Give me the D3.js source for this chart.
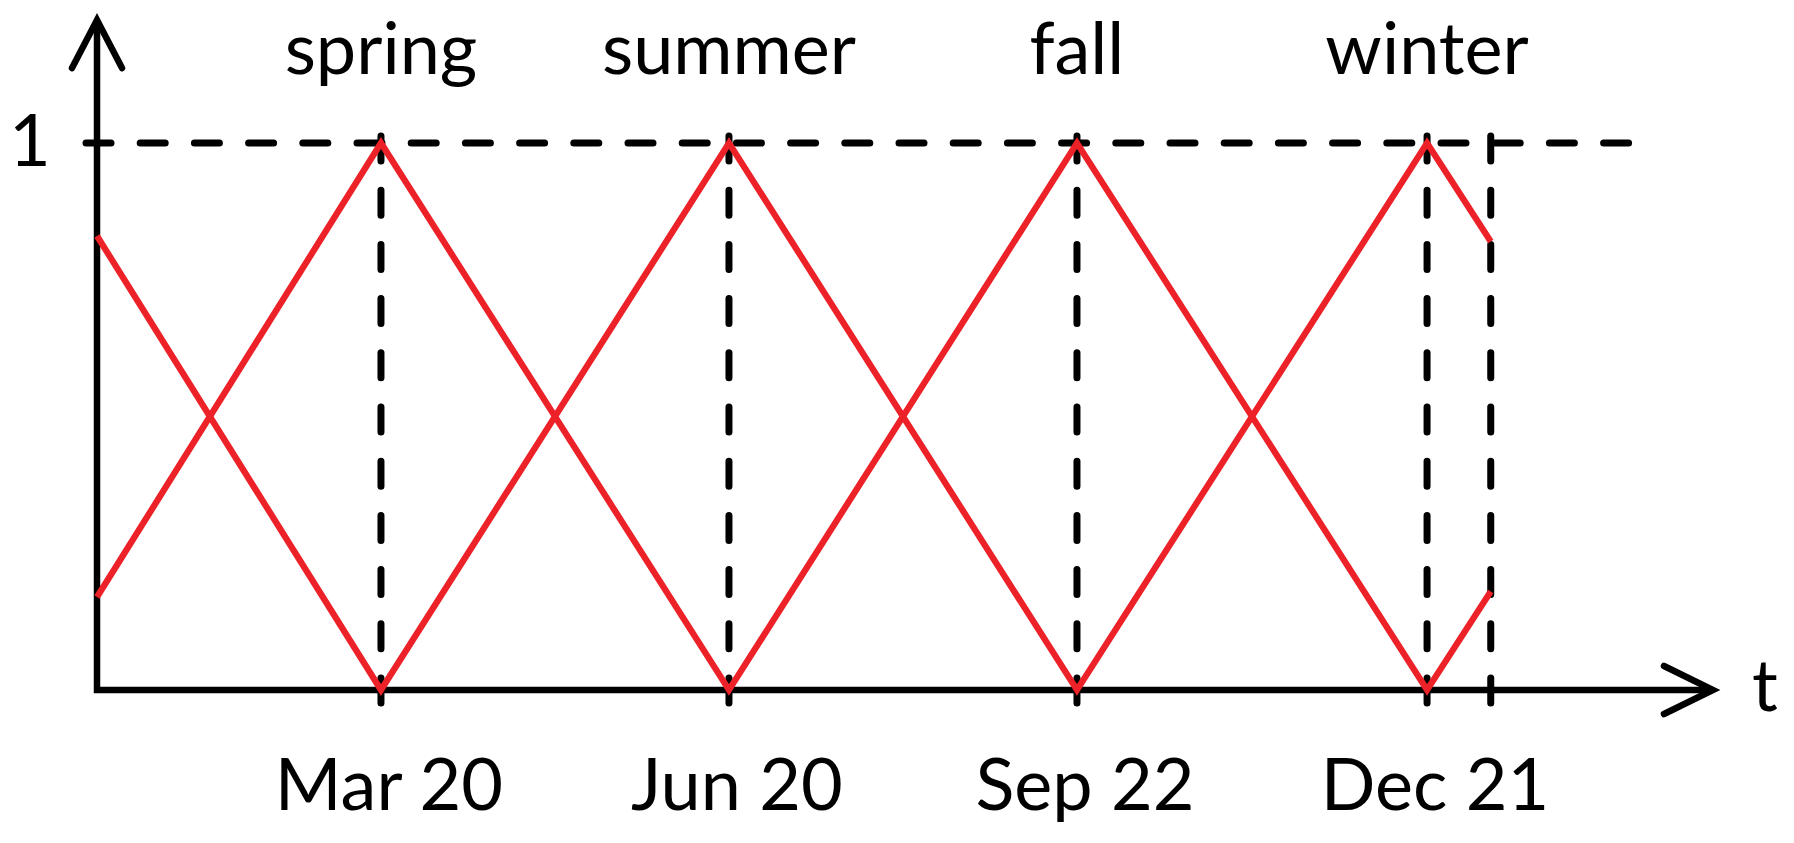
<!DOCTYPE html>
<html>
<head>
<meta charset="utf-8">
<script src="https://cdn.jsdelivr.net/npm/d3@7"></script>
<style>
  html, body { margin: 0; padding: 0; background: #fff; }
  svg { display: block; }
  text { font-family: Lato, "Open Sans", sans-serif; fill: #000; }
</style>
</head>
<body>
<svg></svg>
<script>
var width = 1794;
var height = 843;

// schematic time positions (1 unit ~ one season)
var tickLabels = ["Mar 20", "Jun 20", "Sep 22", "Dec 21"];
var seasons = ["spring", "summer", "fall", "winter"];
var tickPos = [0.816, 1.816, 2.816, 3.822];
var tEnd = 4.005;

// the two triangle waves, at t = 0, each tick, and tEnd
var seriesA = [0.83, 0, 1, 0, 1, 0.82];
var seriesB = [0.17, 1, 0, 1, 0, 0.18];

var tAll = [0].concat(tickPos, [tEnd]);

var x = d3.scaleLinear().domain([0, 4]).range([97, 1489]);
var y = d3.scaleLinear().domain([0, 1]).range([690, 143]);

var svg = d3.select('svg')
  .attr('width', width)
  .attr('height', height);

var dash = "25,29.2";

// horizontal dashed line at 1
svg.append('line')
  .attr('x1', x(0) - 11).attr('x2', x(4) + 151)
  .attr('y1', y(1)).attr('y2', y(1))
  .attr('stroke', '#000').attr('stroke-width', 7)
  .attr('stroke-dasharray', dash).attr('stroke-linecap', 'round');

// vertical dashed lines
svg.selectAll('.vline')
  .data(tickPos.concat([tEnd]))
  .enter().append('line')
  .attr('class', 'vline')
  .attr('x1', function(d){ return x(d); })
  .attr('x2', function(d){ return x(d); })
  .attr('y1', y(1) - 7)
  .attr('y2', y(0) + 15)
  .attr('stroke', '#000').attr('stroke-width', 7)
  .attr('stroke-dasharray', dash).attr('stroke-linecap', 'round');

// axes
var x0 = x(0), yb = y(0);
svg.append('path')
  .attr('d', 'M' + x0 + ',20 L' + x0 + ',' + yb + ' L1713,' + yb)
  .attr('fill', 'none').attr('stroke', '#000').attr('stroke-width', 6.5)
  .attr('stroke-linejoin', 'miter');
svg.append('path')
  .attr('d', 'M' + (x0 - 25) + ',68 L' + x0 + ',20 L' + (x0 + 25) + ',68')
  .attr('fill', 'none').attr('stroke', '#000').attr('stroke-width', 6.5)
  .attr('stroke-linecap', 'round').attr('stroke-linejoin', 'miter');
svg.append('path')
  .attr('d', 'M1664,' + (yb - 24) + ' L1713,' + yb + ' L1664,' + (yb + 24))
  .attr('fill', 'none').attr('stroke', '#000').attr('stroke-width', 6.5)
  .attr('stroke-linecap', 'round').attr('stroke-linejoin', 'miter');

// red lines
var line = d3.line()
  .x(function(d, i){ return x(tAll[i]); })
  .y(function(d){ return y(d); });

svg.selectAll('.wave')
  .data([seriesA, seriesB])
  .enter().append('path')
  .attr('class', 'wave')
  .attr('d', line)
  .attr('fill', 'none')
  .attr('stroke', '#ed2229')
  .attr('stroke-width', 6.3)
  .attr('stroke-linejoin', 'miter');

// labels
var fs = 72;
svg.selectAll('.season')
  .data(seasons)
  .enter().append('text')
  .attr('class', 'season')
  .attr('x', function(d, i){ return x(tickPos[i]); })
  .attr('y', 74)
  .attr('text-anchor', 'middle')
  .attr('font-size', fs)
  .text(function(d){ return d; });

svg.selectAll('.tick')
  .data(tickLabels)
  .enter().append('text')
  .attr('class', 'tick')
  .attr('x', function(d, i){ return x(tickPos[i]) + 8; })
  .attr('y', 810)
  .attr('text-anchor', 'middle')
  .attr('font-size', fs)
  .text(function(d){ return d; });

svg.append('text')
  .attr('x', 30).attr('y', y(1) + 23)
  .attr('text-anchor', 'middle')
  .attr('font-size', fs)
  .text('1');

svg.append('text')
  .attr('x', 1765).attr('y', 711)
  .attr('text-anchor', 'middle')
  .attr('font-size', fs)
  .text('t');
</script>
</body>
</html>
